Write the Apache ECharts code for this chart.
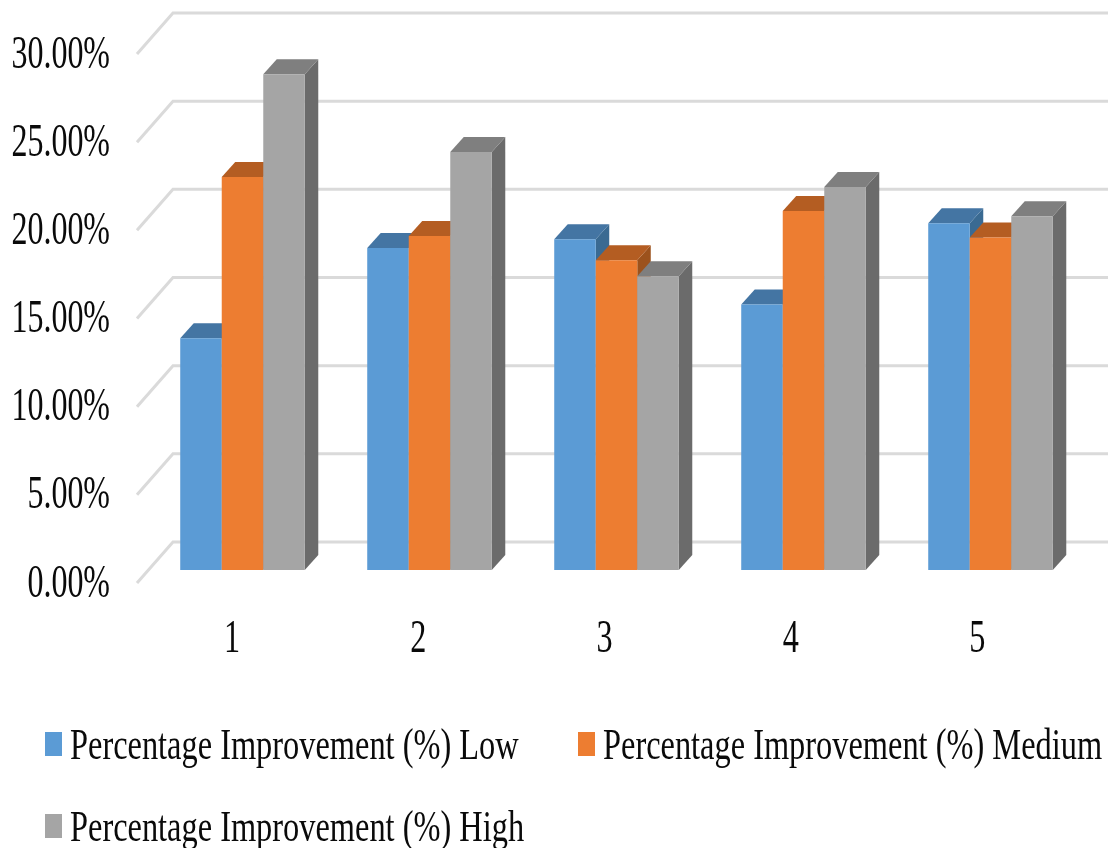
<!DOCTYPE html>
<html>
<head>
<meta charset="utf-8">
<style>html,body{margin:0;padding:0;background:#fff}#chart{width:1114px;height:848px}</style>
<script src="https://cdn.jsdelivr.net/npm/echarts@6/dist/echarts.min.js"></script>
</head>
<body>
<div id="chart"></div>
<script>
// Percentage improvement by group, drawn as pseudo-3D clustered columns.
const categories = ['1', '2', '3', '4', '5'];
const seriesNames = [
  'Percentage Improvement (%) Low',
  'Percentage Improvement (%) Medium',
  'Percentage Improvement (%) High'
];
const lowValues = [13.14, 18.26, 18.76, 15.06, 19.66];
const mediumValues = [22.29, 18.94, 17.56, 20.36, 18.86];
const highValues = [28.12, 23.7, 16.66, 21.72, 20.06];
const yTicks = [0, 5, 10, 15, 20, 25, 30];
const yTickLabels = ['0.00%', '5.00%', '10.00%', '15.00%', '20.00%', '25.00%', '30.00%'];

// Face colours per series: front, top, side.
const palette = [
  { front: '#5B9BD5', top: '#4475A3', side: '#3A6A92' },
  { front: '#ED7D31', top: '#B45D22', side: '#9C521C' },
  { front: '#A5A5A5', top: '#7F7F7F', side: '#6B6B6B' }
];

const FONT = '"Liberation Serif", serif';
const TEXT_COLOR = '#0a0a0a';
const BAR_RATIO = 0.222;      // column width as a share of the category band
const BAR_DX = 13.5, BAR_DY = 15; // extrusion of each column
const WALL_LEFT = -12, WALL_BACK = 24; // floor edge offsets from the plot's left
const WALL_FRONT_DY = 13, WALL_BACK_DY = -28; // gridline offsets from the value position
const TICK_FONT = 46, TICK_SCALE = 0.695;
const CAT_FONT = 46, CAT_SCALE = 0.7;
const LEGEND_FONT = 44, LEGEND_SCALE = 0.736;

function narrowText(text, x, y, size, scale, align) {
  return {
    type: 'text', x: x, y: y, scaleX: scale, silent: true,
    style: { text: text, x: 0, y: 0, fontFamily: FONT, fontSize: size, fill: TEXT_COLOR,
             align: align, verticalAlign: 'middle' }
  };
}

// Gridline running along the floor edge and back wall, plus its tick label.
function renderGrid(params, api) {
  const v = api.value(0);
  const cs = params.coordSys;
  const y = api.coord([0, v])[1];
  return {
    type: 'group',
    children: [
      {
        type: 'polyline',
        shape: { points: [
          [cs.x + WALL_LEFT, y + WALL_FRONT_DY],
          [cs.x + WALL_BACK, y + WALL_BACK_DY],
          [cs.x + cs.width + WALL_BACK, y + WALL_BACK_DY]
        ] },
        style: { stroke: '#DADADA', lineWidth: 3, fill: null }
      },
      narrowText(yTickLabels[params.dataIndex], 110, y + WALL_FRONT_DY + 1.5, TICK_FONT, TICK_SCALE, 'right')
    ]
  };
}

// Category labels sit left of the column cluster, drifting slightly along the axis.
function renderCategoryLabel(params, api) {
  const x = api.coord([api.value(0), 0])[0];
  return narrowText(categories[params.dataIndex], x - 10.5 - 0.7 * params.dataIndex, 640, CAT_FONT, CAT_SCALE, 'center');
}

// One extruded column: front, top and right faces.
function columnRenderer(seriesIndex) {
  return function (params, api) {
    const base = api.coord([api.value(0), 0]);
    const top = api.coord([api.value(0), api.value(1)]);
    const band = api.size([1, 0])[0];
    const w = band * BAR_RATIO;
    const left = base[0] + (seriesIndex - 1.5) * w;
    const right = left + w;
    const c = palette[seriesIndex];
    return {
      type: 'group',
      children: [
        { type: 'polygon', shape: { points: [
            [right, base[1]], [right + BAR_DX, base[1] - BAR_DY],
            [right + BAR_DX, top[1] - BAR_DY], [right, top[1]]
          ] }, style: { fill: c.side } },
        { type: 'polygon', shape: { points: [
            [left, top[1]], [left + BAR_DX, top[1] - BAR_DY],
            [right + BAR_DX, top[1] - BAR_DY], [right, top[1]]
          ] }, style: { fill: c.top } },
        { type: 'rect', shape: { x: left, y: top[1], width: w, height: base[1] - top[1] },
          style: { fill: c.front } }
      ]
    };
  };
}

const allValues = [lowValues, mediumValues, highValues];

// Legend laid out in two rows, swatch then condensed label.
const legendItems = [
  { x: 45, y: 744 }, { x: 578, y: 744 }, { x: 45, y: 826 }
];
const legendGraphics = [];
legendItems.forEach(function (pos, i) {
  legendGraphics.push({
    type: 'rect', x: pos.x, y: pos.y - 12, shape: { x: 0, y: 0, width: 17, height: 24 },
    style: { fill: palette[i].front }
  });
  legendGraphics.push(narrowText(seriesNames[i], pos.x + 25, pos.y + 3, LEGEND_FONT, LEGEND_SCALE, 'left'));
});

const chart = echarts.init(document.getElementById('chart'), null, { renderer: 'canvas' });
chart.setOption({
  animation: false,
  backgroundColor: '#fff',
  grid: { left: 149, width: 935, top: 41, height: 529 },
  xAxis: {
    type: 'category', data: categories,
    axisLine: { show: false }, axisTick: { show: false }, axisLabel: { show: false }
  },
  yAxis: {
    type: 'value', min: 0, max: 30, interval: 5,
    axisLine: { show: false }, axisTick: { show: false }, axisLabel: { show: false },
    splitLine: { show: false }
  },
  graphic: legendGraphics,
  series: [
    {
      type: 'custom', name: 'gridlines', silent: true, clip: false,
      data: yTicks.map(function (v) { return [v]; }),
      encode: { y: 0 }, renderItem: renderGrid, z: 1
    },
    {
      type: 'custom', name: 'categories', silent: true, clip: false,
      data: categories.map(function (c, i) { return [i]; }),
      encode: { x: 0 }, renderItem: renderCategoryLabel, z: 1
    }
  ].concat(allValues.map(function (values, s) {
    return {
      type: 'custom', name: seriesNames[s], clip: false, z: 2 + s,
      data: values.map(function (v, i) { return [i, v]; }),
      encode: { x: 0, y: 1 }, renderItem: columnRenderer(s)
    };
  }))
});
</script>
</body>
</html>
